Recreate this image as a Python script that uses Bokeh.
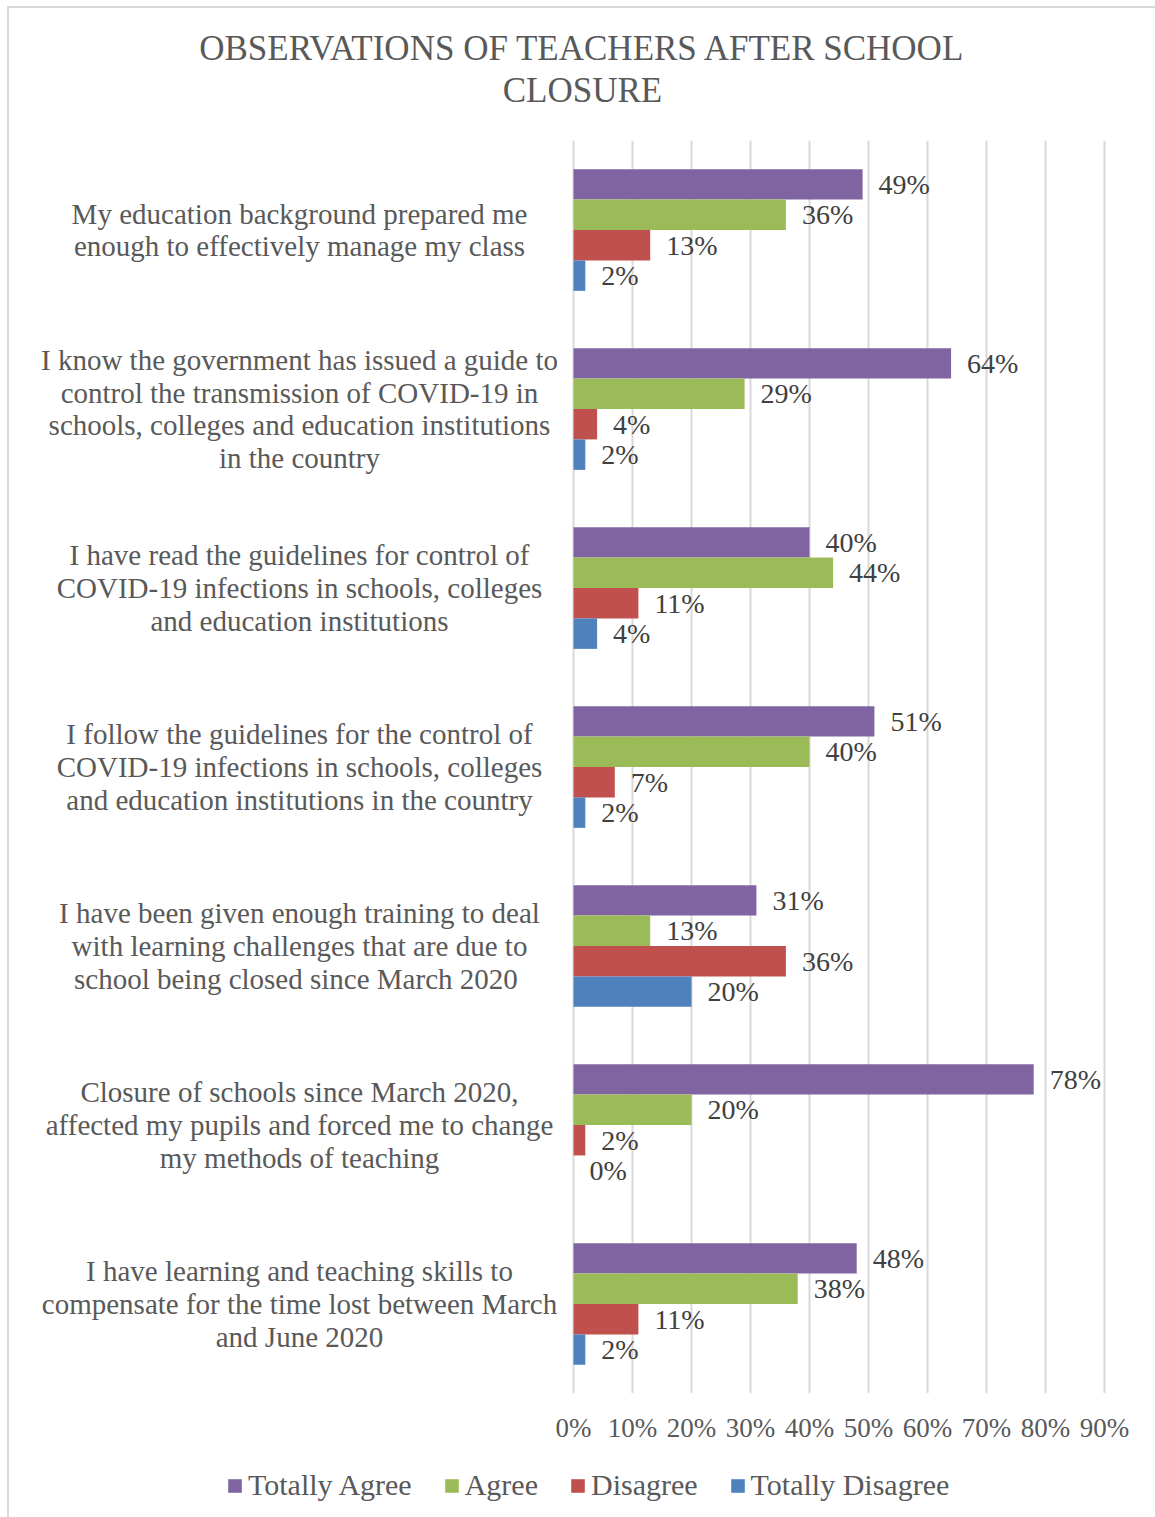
from bokeh.plotting import figure
from bokeh.layouts import column
from bokeh.models import (Range1d, FactorRange, FixedTicker, PrintfTickFormatter,
                          Legend, LegendItem, ColumnDataSource)
from bokeh.transform import dodge
from bokeh.core.properties import value
from bokeh.embed import file_html
from bokeh.resources import INLINE

# ---------------- data ----------------
categories = [
    "My education background prepared me\nenough to effectively manage my class",
    "I know the government has issued a guide to\ncontrol the transmission of COVID-19 in\nschools, colleges and education institutions\nin the country",
    "I have read the guidelines for control of\nCOVID-19 infections in schools, colleges\nand education institutions",
    "I follow the guidelines for the control of\nCOVID-19 infections in schools, colleges\nand education institutions in the country",
    "I have been given enough training to deal\nwith learning challenges that are due to\nschool being closed  since March 2020",
    "Closure of schools since March 2020,\naffected my pupils and forced me to change\nmy methods of teaching",
    "I have learning and teaching skills to\ncompensate for the time lost between March\nand June 2020",
]
series_names = ["Totally Agree", "Agree", "Disagree", "Totally Disagree"]
totally_agree = [49, 64, 40, 51, 31, 78, 48]
agree = [36, 29, 44, 40, 13, 20, 38]
disagree = [13, 4, 11, 7, 36, 2, 11]
totally_disagree = [2, 2, 4, 2, 20, 0, 2]
x_ticks = [0, 10, 20, 30, 40, 50, 60, 70, 80, 90]
title_lines = ["OBSERVATIONS OF TEACHERS AFTER SCHOOL", "CLOSURE"]

# ---------------- style ----------------
colors = ["#8064A2", "#9BBB59", "#C0504D", "#4F81BD"]
offsets = [0.255, 0.085, -0.085, -0.255]
bar_h = 0.17
FONT = "Liberation Serif"
TXT = "#595959"
BORDER = "#D9D9D9"
OFF_X, OFF_Y = 9, 8          # outer margin + border of the chart area
PX_PER_UNIT = 5.9
ZERO_PX = 573 - OFF_X
W = 1155 - OFF_X
TITLE_H = 140 - OFF_Y
TITLE_LINE_Y = [48 - OFF_Y, 90 - OFF_Y]   # line centres, px from top of strip
FRAME_H = 1253
LABEL_CENTER_PX = 299 - OFF_X
MAIN_H = 1455 - 140
LEGEND_H = 1517 - 1455

series = [totally_agree, agree, disagree, totally_disagree]
keys = ["ta", "a", "d", "td"]
data = dict(cat=categories)
for k, s in zip(keys, series):
    data[k] = s
    data[k + "_lbl"] = [f"{v}%" for v in s]
src = ColumnDataSource(data)


def strip(height):
    f = figure(width=W, height=height, x_range=Range1d(0, W), y_range=Range1d(height, 0),
               output_backend="svg", toolbar_location=None,
               min_border_left=0, min_border_right=0, min_border_top=0, min_border_bottom=0)
    f.axis.visible = False
    f.grid.visible = False
    f.outline_line_color = None
    f.title.visible = False
    return f


# ---- title strip ----
top = strip(TITLE_H)
top.text(x=[W / 2] * len(title_lines), y=TITLE_LINE_Y, text=title_lines,
         text_align="center", text_baseline="middle",
         text_font=value(FONT), text_font_size="35px", text_color=TXT)

# ---- main chart ----
p = figure(frame_width=W, frame_height=FRAME_H,
           x_range=Range1d(-ZERO_PX / PX_PER_UNIT, (W - ZERO_PX) / PX_PER_UNIT),
           y_range=FactorRange(factors=list(reversed(categories))),
           output_backend="svg", toolbar_location=None,
           min_border_left=0, min_border_right=0,
           min_border_top=0, min_border_bottom=MAIN_H - FRAME_H)
p.title.visible = False

for k, c, off in zip(keys, colors, offsets):
    p.hbar(y=dodge("cat", off, range=p.y_range), left=0, right=k, height=bar_h,
           fill_color=c, line_color=None, source=src)
    p.text(x=k, y=dodge("cat", off, range=p.y_range), text=k + "_lbl", source=src,
           x_offset=16, text_align="left", text_baseline="middle",
           text_font=value(FONT), text_font_size="28px", text_color="#404040")

# category labels
p.text(x=(LABEL_CENTER_PX - ZERO_PX) / PX_PER_UNIT, y="cat", text="cat", source=src,
       text_align="center", text_baseline="middle", text_line_height=1.03,
       text_font=value(FONT), text_font_size="29px", text_color=TXT)

p.yaxis.visible = False
ticker = FixedTicker(ticks=x_ticks)
p.xaxis.ticker = ticker
p.xgrid.ticker = ticker
p.xaxis.formatter = PrintfTickFormatter(format="%d%%")
p.xaxis.axis_line_color = None
p.xaxis.major_tick_line_color = None
p.xaxis.minor_tick_line_color = None
p.xaxis.major_label_standoff = 13
p.xaxis.major_label_text_font = FONT
p.xaxis.major_label_text_font_size = "27px"
p.xaxis.major_label_text_color = TXT
p.xgrid.grid_line_color = BORDER
p.xgrid.grid_line_width = 2
p.ygrid.grid_line_color = None
p.outline_line_color = None

# ---- legend strip ----
leg = strip(LEGEND_H)
offscreen = ColumnDataSource(dict(y=[-100], right=[0]))
dummies = [leg.hbar(y="y", right="right", left=0, height=1, fill_color=c, line_color=None,
                    source=offscreen) for c in colors]
legend = Legend(items=[LegendItem(label=n, renderers=[r]) for n, r in zip(series_names, dummies)],
                orientation="horizontal", location=(217, 15),
                label_text_font=FONT, label_text_font_size="30px", label_text_color=TXT,
                glyph_width=17, glyph_height=17, label_standoff=5, spacing=31,
                border_line_color=None, background_fill_alpha=0, padding=0, margin=0)
leg.add_layout(legend, "center")

layout = column(top, p, leg, spacing=0,
                styles={"margin-left": "7px", "margin-top": "6px",
                        "border-left": f"2px solid {BORDER}", "border-top": f"2px solid {BORDER}"})
open("out.html", "w").write(file_html(layout, INLINE))
